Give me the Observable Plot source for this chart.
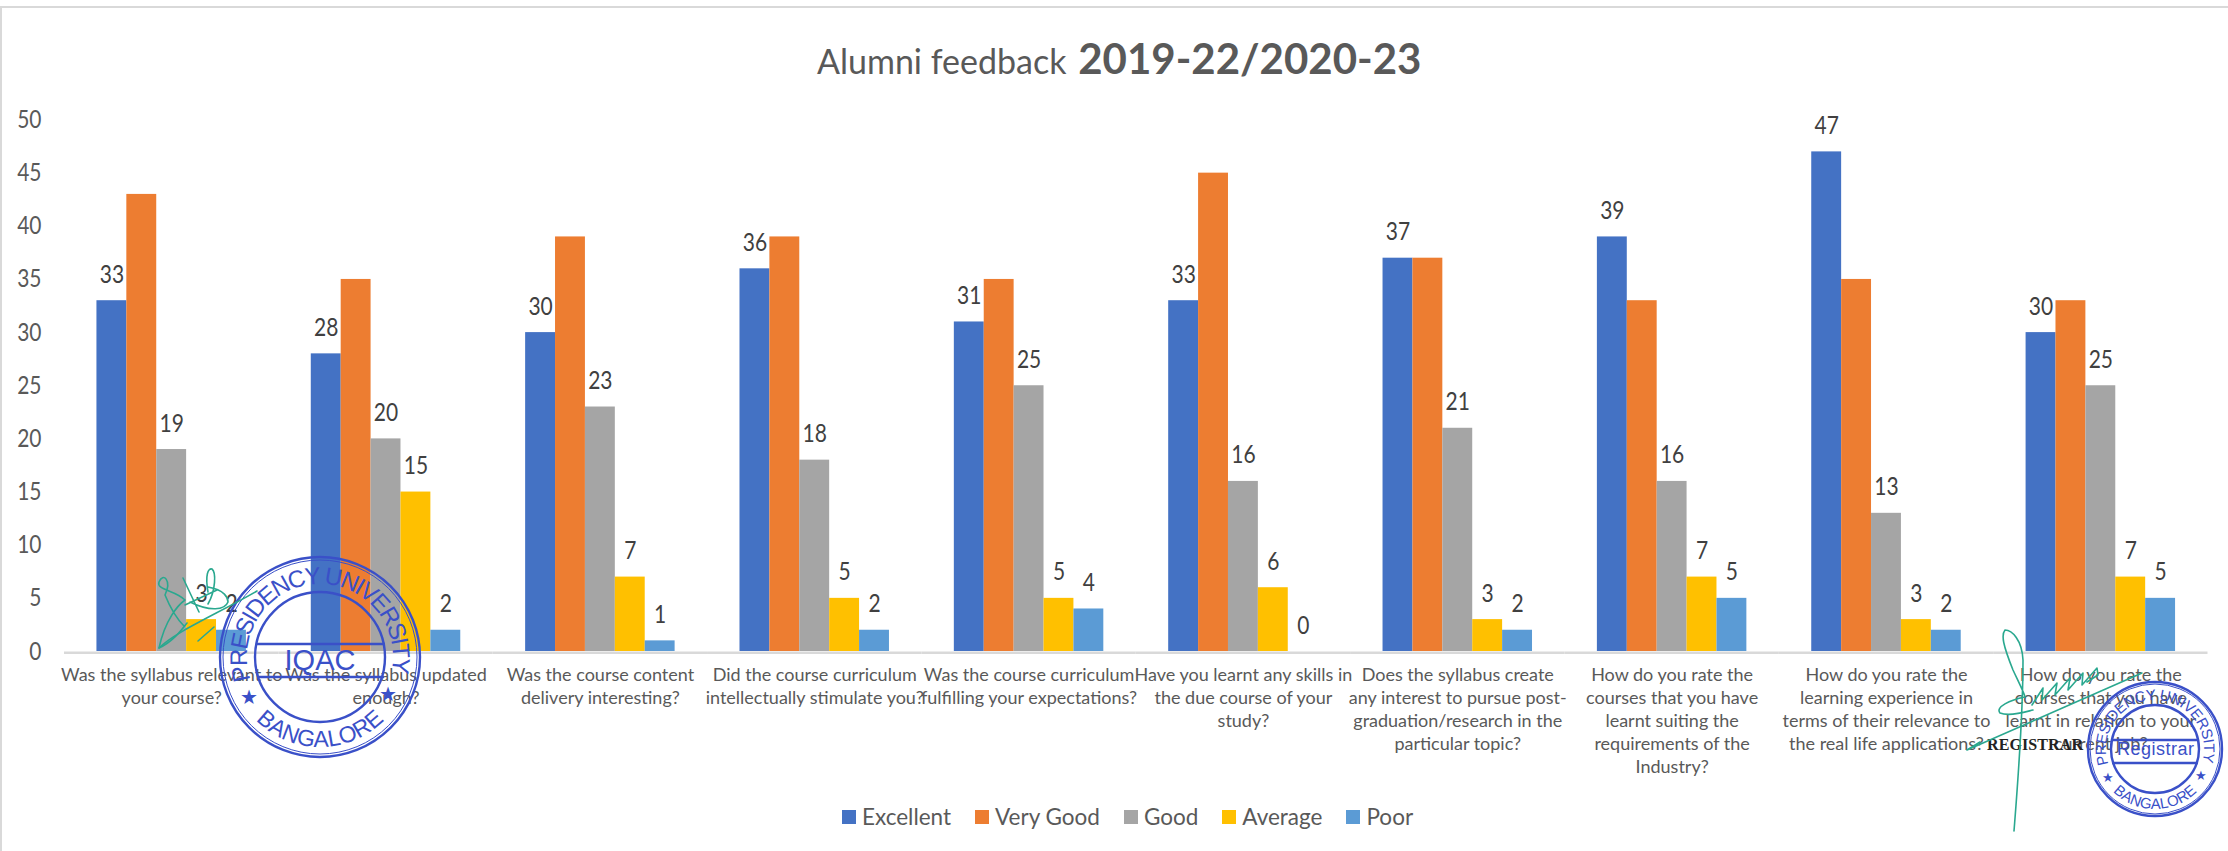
<!DOCTYPE html>
<html><head><meta charset="utf-8">
<script src="https://cdn.jsdelivr.net/npm/d3@7"></script>
<script src="https://cdn.jsdelivr.net/npm/@observablehq/plot@0.6"></script>
<style>
html,body{margin:0;padding:0;background:#fff}
#wrap{position:relative;width:2228px;height:851px;overflow:hidden;font-family:Lato,sans-serif}
#frame{position:absolute;left:0;top:6px;width:2228px;height:845px;border-top:2px solid #d9d9d9;border-left:2px solid #d9d9d9;box-sizing:border-box}
#title{position:absolute;left:817px;top:33px;white-space:nowrap;font:34px Lato,sans-serif;color:#595959}
#title b{font-size:42px;font-weight:700;margin-left:3px}
#legend{position:absolute;left:842px;top:803px;display:flex;gap:24px;font:22.5px Lato,sans-serif;color:#595959;align-items:center}
#legend span.s{display:inline-block;width:14px;height:14px;margin-right:6px}
#legend div{display:flex;align-items:center}
#stamps{position:absolute;left:0;top:0}
</style></head><body><div id="wrap"><div id="frame"></div><div id="chart"></div>
<div id="title">Alumni feedback <b>2019-22/2020-23</b></div><div id="legend"></div>
<svg id="stamps" width="2228" height="851" viewBox="0 0 2228 851" fill="none">
<defs>
<path id="a1" d="M250.6 679.6 A73 73 0 1 1 389.4 679.6"/>
<path id="a2" d="M230 657 A90 90 0 0 0 410 657"/>
<path id="b1" d="M2108.4 764.1 A49 49 0 1 1 2201.6 764.1"/>
<path id="b2" d="M2095 749 A60 60 0 0 0 2215 749"/>
</defs>
<g stroke="#3a50c8" stroke-width="2.4">
<circle cx="320" cy="657" r="100"/><circle cx="320" cy="657" r="97" stroke-width="1"/><circle cx="320" cy="657" r="65"/>
<path d="M256 644H385M257 677H384"/>
<circle cx="2155" cy="749" r="67"/><circle cx="2155" cy="749" r="65" stroke-width="1"/><circle cx="2155" cy="749" r="44"/>
<path d="M2112 740H2198M2112 763H2198"/>
</g>
<g fill="#3a50c8" font-family="Liberation Sans,sans-serif">
<text x="320" y="670" font-size="29" text-anchor="middle">IQAC</text>
<text font-size="24"><textPath href="#a1" textLength="268" lengthAdjust="spacing">PRESIDENCY UNIVERSITY</textPath></text>
<text font-size="23"><textPath href="#a2" startOffset="50%" text-anchor="middle">BANGALORE</textPath></text>
<text x="2117" y="755" font-size="18" textLength="77" lengthAdjust="spacing">Registrar</text>
<text font-size="15"><textPath href="#b1" textLength="182" lengthAdjust="spacing">PRESIDENCY UNIVERSITY</textPath></text>
<text font-size="15"><textPath href="#b2" startOffset="50%" text-anchor="middle">BANGALORE</textPath></text>
<text x="249" y="704" font-size="20" text-anchor="middle">★</text><text x="388" y="701" font-size="20" text-anchor="middle">★</text>
<text x="2108" y="782" font-size="13" text-anchor="middle">★</text><text x="2201" y="780" font-size="13" text-anchor="middle">★</text>
</g>
<text x="1987" y="750" font-family="Liberation Serif,serif" font-weight="700" font-size="16" fill="#222" textLength="96" lengthAdjust="spacing">REGISTRAR</text>
<g stroke="#2aa88f" stroke-width="1.6" stroke-linecap="round" stroke-linejoin="round">
<path d="M159 648 C175 632 215 615 257 591"/>
<path d="M159 648 C165 620 178 605 185 600 C175 590 156 590 159 582 C163 572 172 580 165 595 C172 612 178 620 184 626 M159 648 C172 642 180 632 187 623"/>
<path d="M183 578 L199 612 M185 605 L217 590 M208 592 C205 575 208 568 212 569 C216 572 216 590 208 604 M208 587 C225 590 228 598 228 602 C225 610 210 612 190 602"/>
<path d="M198 641 L214 627"/>
<path d="M2014 831 C2018 780 2023 720 2023 660 C2022 640 2012 630 2005 630 C2001 635 2003 645 2013 670 C2020 685 2025 695 2025 697 C2010 700 1995 707 2000 713 C2010 717 2025 712 2033 710"/>
<path d="M1967 750 L2142 673 M1967 750 L1980 742"/>
<path d="M2032 705 L2043 688 L2042 700 L2057 683 L2055 695 L2070 678 L2068 690 L2083 673 L2082 685 L2097 668 L2098 675 L2087 682"/>
</g>
</svg></div>
<script>
const categories = [
 "Was the syllabus relevant to\nyour course?",
 "Was the syllabus updated\nenough?",
 "Was the course content\ndelivery interesting?",
 "Did the course curriculum\nintellectually stimulate you?",
 "Was the course curriculum\nfulfilling your expectations?",
 "Have you learnt any skills in\nthe due course of your\nstudy?",
 "Does the syllabus create\nany interest to pursue post-\ngraduation/research in the\nparticular topic?",
 "How do you rate the\ncourses that you have\nlearnt suiting the\nrequirements of the\nIndustry?",
 "How do you rate the\nlearning experience in\nterms of their relevance to\nthe real life applications?",
 "How do you rate the\ncourses that you have\nlearnt in relation to your\ncurrent job?"
];
const seriesNames = ["Excellent","Very Good","Good","Average","Poor"];
const seriesColors = ["#4472C4","#ED7D31","#A5A5A5","#FFC000","#5B9BD5"];
const excellent = [33,28,30,36,31,33,37,39,47,30];
const veryGood  = [43,35,39,39,35,45,37,33,35,33];
const good      = [19,20,23,18,25,16,21,16,13,25];
const average   = [3,15,7,5,5,6,3,7,3,7];
const poor      = [2,2,1,2,4,0,2,5,2,5];
const yTicks = [0,5,10,15,20,25,30,35,40,45,50];
const allSeries = [excellent,veryGood,good,average,poor];
const rows = allSeries.flatMap((vals,s)=>vals.map((v,c)=>({cat:categories[c],series:seriesNames[s],value:v})));
const chart = Plot.plot({
  width:2228,height:851,marginLeft:64,marginRight:20.5,marginTop:119.5,marginBottom:200,
  style:{fontFamily:'Lato,sans-serif',background:"transparent"},
  fx:{domain:categories,padding:0,round:false,label:null},
  x:{domain:seriesNames,paddingInner:0,paddingOuter:1.085,round:false,axis:null},
  y:{domain:[0,50],ticks:yTicks,label:null},
  color:{domain:seriesNames,range:seriesColors},
  marks:[
    Plot.barY(rows,{fx:"cat",x:"series",y:"value",fill:"series"}),
    Plot.text(rows.filter(d=>d.series!=="Very Good"),{fx:"cat",x:"series",y:"value",text:"value",dy:-26,fontSize:25,fill:"#404040"}),
    Plot.ruleY([0],{stroke:"#d9d9d9",strokeWidth:2.5,dy:1.2}),
    Plot.axisY({ticks:yTicks,tickSize:0,tickPadding:23,fontSize:25,fill:"#595959",label:null}),
    Plot.axisFx({anchor:"bottom",tickSize:0,tickPadding:13,fontSize:18,fill:"#595959",lineHeight:1.28,label:null})
  ]
});
document.getElementById("chart").append(chart);
chart.querySelectorAll('[aria-label="y-axis tick label"] text, [aria-label="text"] text').forEach(t=>{
  t.setAttribute("transform",(t.getAttribute("transform")||"")+" scale(.84 1)");
});
const lg=document.getElementById("legend");
seriesNames.forEach((n,i)=>{const d=document.createElement("div");d.innerHTML=`<span class="s" style="background:${seriesColors[i]}"></span>${n}`;lg.append(d);});
</script></body></html>
